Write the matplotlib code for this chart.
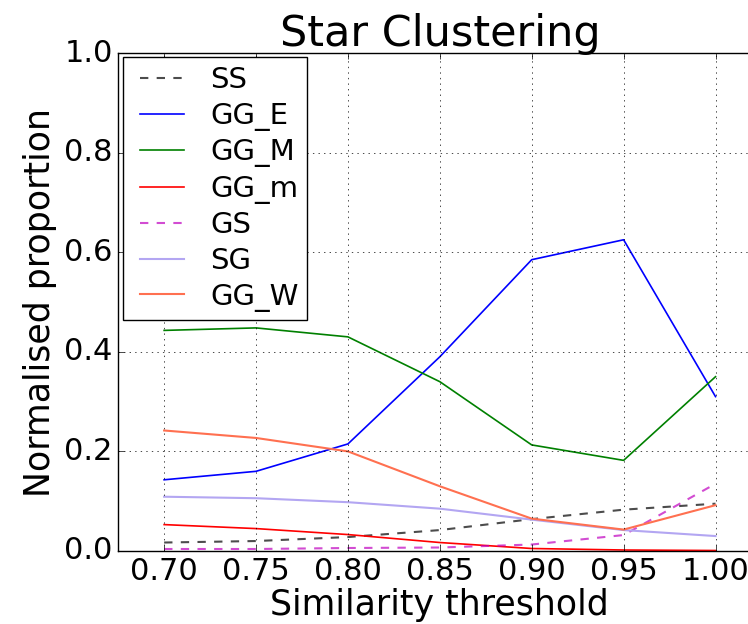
import numpy as np
import matplotlib
matplotlib.use("Agg")
import matplotlib.pyplot as plt

plt.style.use("classic")

thresholds = [0.70, 0.75, 0.80, 0.85, 0.90, 0.95, 1.00]

ss = [0.017, 0.020, 0.028, 0.042, 0.064, 0.083, 0.095]
gg_e = [0.143, 0.160, 0.215, 0.390, 0.585, 0.625, 0.310]
gg_M = [0.443, 0.448, 0.430, 0.340, 0.213, 0.182, 0.350]
gg_m = [0.053, 0.045, 0.033, 0.017, 0.005, 0.002, 0.001]
gs = [0.004, 0.004, 0.006, 0.007, 0.013, 0.032, 0.135]
sg = [0.109, 0.106, 0.098, 0.085, 0.063, 0.042, 0.030]
gg_w = [0.242, 0.227, 0.200, 0.130, 0.065, 0.043, 0.092]

fig = plt.figure(figsize=(7.48, 6.24), dpi=100, facecolor="white")
# axes runs off the right edge, like the cropped original
ax = fig.add_axes([0.158, 0.117, 0.86, 0.798])

ax.plot(thresholds, ss, "--", color="k", alpha=0.7, lw=1.5, label="SS")
ax.plot(thresholds, gg_e, color="b", lw=1.2, label="GG_E")
ax.plot(thresholds, gg_M, color="g", lw=1.2, label="GG_M")
ax.plot(thresholds, gg_m, color="r", lw=1.2, label="GG_m")
ax.plot(thresholds, gs, "--", color="m", alpha=0.7, lw=1.5, label="GS")
ax.plot(thresholds, sg, color="#b3a6f2", lw=1.5, label="SG")
ax.plot(thresholds, gg_w, color="#ff7050", lw=1.5, label="GG_W")

ax.set_xlim(0.675, 1.025)
ax.set_ylim(0.0, 1.0)
ax.set_xticks(thresholds)
ax.set_xticklabels(["%.2f" % t for t in thresholds])
ax.set_yticks([0.0, 0.2, 0.4, 0.6, 0.8, 1.0])
ax.grid(True)
ax.tick_params(labelsize=22)

ax.set_title("Star Clustering", fontsize=31)
ax.set_xlabel("Similarity threshold", fontsize=25, labelpad=2)
ax.set_ylabel("Normalised proportion", fontsize=25)

ax.legend(loc="upper left", fontsize=21, handlelength=2.1, handletextpad=0.6,
          borderaxespad=0.15, labelspacing=0.26, borderpad=0.3)

fig.savefig("out.png", dpi=100, facecolor="white")
